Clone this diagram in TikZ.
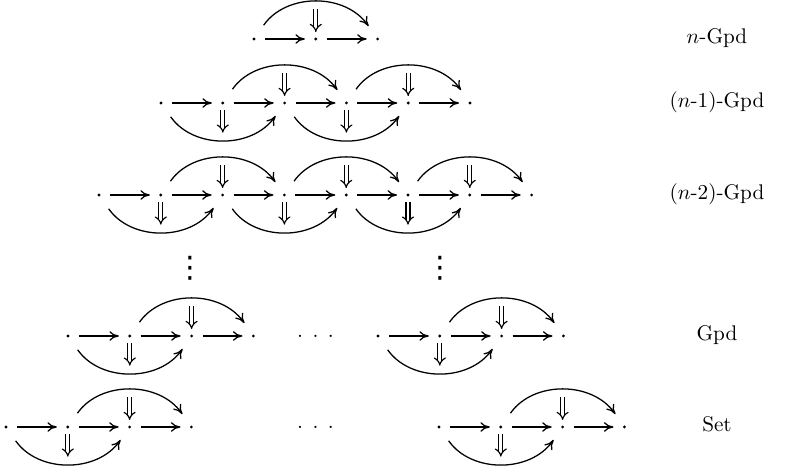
\documentclass[tikz,border=0pt]{standalone}
\usepackage{amsmath}
\usepackage{amsfonts}
\usepackage{fontspec}
\newfontfamily\symfont{DejaVu Sans}
\usetikzlibrary{positioning, arrows.meta}

\newcommand{\hdotz}{.\kern4.5pt.\kern4.5pt.}
\newcommand{\vdotz}{{\symfont\fontsize{14}{14}\selectfont ⋮}}
\newcommand{\uptwo}[3]{%
  \draw[cellarc] (#1) to[out=55, in=125, looseness=1.05] (#3);
  \draw[twocell] ([yshift=14pt]#2.center) -- ([yshift=3.3pt]#2.center);}
\newcommand{\downtwo}[3]{%
  \draw[cellarc] (#1) to[out=-55, in=-125, looseness=1.05] (#3);
  \draw[twocell] ([yshift=-3.3pt]#2.center) -- ([yshift=-14pt]#2.center);}

\begin{document}
\begin{tikzpicture}[x=0.472pt, y=0.472pt, line width=0.6pt,
  >={Computer Modern Rightarrow[length=4.5pt, width=4.5pt]},
  dot/.style = {circle, fill, inner sep=0pt, minimum size=1.5pt, outer sep=4.4pt},
  cellarc/.style = {->, shorten <=2.8pt, shorten >=2.3pt},
  twocell/.style = {double, double distance=1.4pt, line width=0.55pt, -{Implies}},
  lbl/.style = {anchor=mid}]
\useasboundingbox (0,0) rectangle (800,472);

% the rows of points and 1-cells
\foreach \r/\xs/\ys/\n in {a/254/433/3, b/161/369/6, c/99/277/8, d/68/136/4, e/378/136/4, f/6/45/4, g/439/45/4} {
  \foreach \i in {1,...,\n}
    \node[dot] (\r\i) at ({\xs+61.8*(\i-1)}, \ys) {};
  \foreach \i [remember=\i as \j (initially 1)] in {2,...,\n}
    \draw[->] (\r\j) -- (\r\i);
}

% 2-cells
\uptwo{a1}{a2}{a3}
\uptwo{b2}{b3}{b4}
\uptwo{b4}{b5}{b6}
\downtwo{b1}{b2}{b3}
\downtwo{b3}{b4}{b5}
\uptwo{c2}{c3}{c4}
\uptwo{c4}{c5}{c6}
\uptwo{c6}{c7}{c8}
\downtwo{c1}{c2}{c3}
\downtwo{c3}{c4}{c5}
\downtwo{c5}{c6}{c7}
\foreach \r in {d,e,f,g} {
  \uptwo{\r2}{\r3}{\r4}
  \downtwo{\r1}{\r2}{\r3}
}

% dots
\node (vd1) at (190,204) {\vdotz};
\node (vd2) at (440,204) {\vdotz};
\node (hd1) at (315.5,136) {\hdotz};
\node (hd2) at (315.5,45) {\hdotz};

% labels
\node[lbl] (ngpd) at (717,433) {$n$-Gpd};
\node[lbl] (n1gpd) at (717,369) {($n$-1)-Gpd};
\node[lbl] (n2gpd) at (717,277) {($n$-2)-Gpd};
\node[lbl] (gpd) at (717,136) {Gpd};
\node[lbl] (set) at (717,45) {Set};
\end{tikzpicture}
\end{document}
